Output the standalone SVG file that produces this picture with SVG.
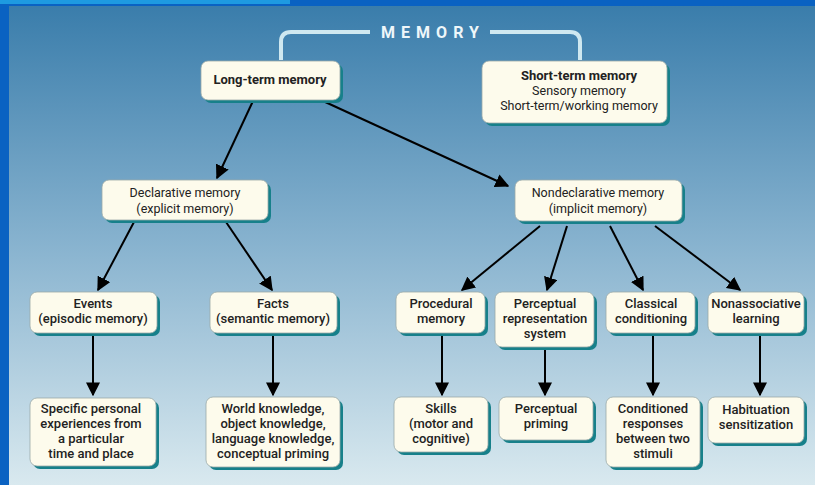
<svg xmlns="http://www.w3.org/2000/svg" width="815" height="485" viewBox="0 0 815 485">
<defs>
<linearGradient id="bg" x1="0" y1="0" x2="0" y2="1">
<stop offset="0" stop-color="#3a7dab"/>
<stop offset="0.5" stop-color="#88b3cf"/>
<stop offset="1" stop-color="#d9e9ef"/>
</linearGradient>
<marker id="ah" viewBox="0 0 10 10" refX="9" refY="5" markerWidth="7" markerHeight="7" markerUnits="strokeWidth" orient="auto">
<path d="M0,0 L10,5 L0,10 z" fill="#000"/>
</marker>
</defs>
<style>
.box{fill:#fdfbec;stroke:#9aa9a8;stroke-width:0.8}
.sh{fill:#17808a}
text{font-family:Roboto,"Liberation Sans",Arial,sans-serif;font-size:12.5px;fill:#222;text-anchor:middle}
.b{font-weight:bold;font-size:13px}
.s{font-weight:500;font-size:13px}
.c{stroke:#000;stroke-width:2;fill:none;marker-end:url(#ah)}
.br{stroke:#cfe8f0;stroke-width:4;fill:none}
</style>
<rect x="0" y="0" width="815" height="485" fill="#0a62c2"/>
<rect x="0" y="0" width="290" height="4" fill="#1e9ae0"/>
<rect x="9" y="6" width="806" height="479" fill="url(#bg)"/>

<g id="memory">
<path class="br" d="M281,60 V42 Q281,32 291,32 H370"/>
<path class="br" d="M490,32 H570 Q580,32 580,42 V60"/>
<text x="433" y="38" style="font-size:16px;font-weight:bold;letter-spacing:6px;fill:#eef7fa">MEMORY</text>
</g>

<g id="connectors">
<line class="c" x1="253" y1="101" x2="217" y2="178"/>
<line class="c" x1="323" y1="101" x2="508" y2="186"/>
<line class="c" x1="134" y1="222" x2="98" y2="290"/>
<line class="c" x1="226" y1="222" x2="272" y2="290"/>
<line class="c" x1="540" y1="226" x2="462" y2="290"/>
<line class="c" x1="567" y1="226" x2="547" y2="290"/>
<line class="c" x1="610" y1="226" x2="643" y2="290"/>
<line class="c" x1="655" y1="226" x2="740" y2="290"/>
<line class="c" x1="93" y1="334" x2="93" y2="395"/>
<line class="c" x1="273" y1="334" x2="273" y2="395"/>
<line class="c" x1="442" y1="334" x2="442" y2="395"/>
<line class="c" x1="545" y1="348" x2="545" y2="395"/>
<line class="c" x1="653" y1="334" x2="653" y2="395"/>
<line class="c" x1="760" y1="334" x2="760" y2="395"/>
</g>

<g id="ltm">
<rect class="sh" x="204" y="64" width="139" height="39" rx="7"/>
<rect class="box" x="201" y="61" width="139" height="39" rx="7"/>
<text class="b" x="270" y="84">Long-term memory</text>
</g>
<g id="stm">
<rect class="sh" x="485" y="64" width="185" height="62" rx="7"/>
<rect class="box" x="482" y="61" width="185" height="62" rx="7"/>
<text class="b" x="579" y="80">Short-term memory</text>
<text x="579" y="95">Sensory memory</text>
<text x="579" y="110">Short-term/working memory</text>
</g>
<g id="declarative">
<rect class="sh" x="105" y="183" width="166" height="40" rx="7"/>
<rect class="box" x="102" y="180" width="166" height="40" rx="7"/>
<text x="185" y="197">Declarative memory</text>
<text x="185" y="213">(explicit memory)</text>
</g>
<g id="nondeclarative">
<rect class="sh" x="518" y="183" width="167" height="41" rx="7"/>
<rect class="box" x="515" y="180" width="167" height="41" rx="7"/>
<text x="598" y="197">Nondeclarative memory</text>
<text x="598" y="213">(implicit memory)</text>
</g>
<g id="events">
<rect class="sh" x="33" y="295" width="127" height="41" rx="7"/>
<rect class="box" x="30" y="292" width="127" height="41" rx="7"/>
<text class="s" x="93" y="308">Events</text>
<text class="s" x="93" y="323">(episodic memory)</text>
</g>
<g id="facts">
<rect class="sh" x="213" y="295" width="127" height="41" rx="7"/>
<rect class="box" x="210" y="292" width="127" height="41" rx="7"/>
<text class="s" x="273" y="308">Facts</text>
<text class="s" x="273" y="323">(semantic memory)</text>
</g>
<g id="procedural">
<rect class="sh" x="399" y="295" width="89" height="41" rx="7"/>
<rect class="box" x="396" y="292" width="89" height="41" rx="7"/>
<text class="s" x="441" y="308">Procedural</text>
<text class="s" x="441" y="323">memory</text>
</g>
<g id="perceptual">
<rect class="sh" x="498" y="295" width="99" height="55" rx="7"/>
<rect class="box" x="495" y="292" width="99" height="55" rx="7"/>
<text class="s" x="545" y="308">Perceptual</text>
<text class="s" x="545" y="323">representation</text>
<text class="s" x="545" y="338">system</text>
</g>
<g id="classical">
<rect class="sh" x="609" y="295" width="89" height="41" rx="7"/>
<rect class="box" x="606" y="292" width="89" height="41" rx="7"/>
<text class="s" x="651" y="308">Classical</text>
<text class="s" x="651" y="323">conditioning</text>
</g>
<g id="nonassociative">
<rect class="sh" x="711" y="295" width="96" height="41" rx="7"/>
<rect class="box" x="708" y="292" width="96" height="41" rx="7"/>
<text class="s" x="756" y="308">Nonassociative</text>
<text class="s" x="756" y="323">learning</text>
</g>
<g id="specific">
<rect class="sh" x="33" y="401" width="126" height="68" rx="7"/>
<rect class="box" x="30" y="398" width="126" height="68" rx="7"/>
<text class="s" x="91" y="413">Specific personal</text>
<text class="s" x="91" y="428">experiences from</text>
<text class="s" x="91" y="443">a particular</text>
<text class="s" x="91" y="458">time and place</text>
</g>
<g id="world">
<rect class="sh" x="209" y="400" width="134" height="70" rx="7"/>
<rect class="box" x="206" y="397" width="134" height="70" rx="7"/>
<text class="s" x="273" y="413">World knowledge,</text>
<text class="s" x="273" y="428">object knowledge,</text>
<text class="s" x="273" y="443">language knowledge,</text>
<text class="s" x="273" y="458">conceptual priming</text>
</g>
<g id="skills">
<rect class="sh" x="397" y="400" width="94" height="55" rx="7"/>
<rect class="box" x="394" y="397" width="94" height="55" rx="7"/>
<text class="s" x="441" y="413">Skills</text>
<text class="s" x="441" y="428">(motor and</text>
<text class="s" x="441" y="443">cognitive)</text>
</g>
<g id="priming">
<rect class="sh" x="502" y="400" width="94" height="43" rx="7"/>
<rect class="box" x="499" y="397" width="94" height="43" rx="7"/>
<text class="s" x="546" y="413">Perceptual</text>
<text class="s" x="546" y="428">priming</text>
</g>
<g id="conditioned">
<rect class="sh" x="609" y="400" width="94" height="70" rx="7"/>
<rect class="box" x="606" y="397" width="94" height="70" rx="7"/>
<text class="s" x="653" y="413">Conditioned</text>
<text class="s" x="653" y="428">responses</text>
<text class="s" x="653" y="443">between two</text>
<text class="s" x="653" y="458">stimuli</text>
</g>
<g id="habituation">
<rect class="sh" x="711" y="400" width="96" height="46" rx="7"/>
<rect class="box" x="708" y="397" width="96" height="46" rx="7"/>
<text class="s" x="756" y="414">Habituation</text>
<text class="s" x="756" y="429">sensitization</text>
</g>
</svg>
